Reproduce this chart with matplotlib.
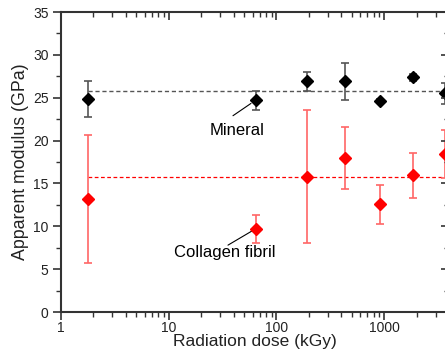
import matplotlib
matplotlib.use("Agg")
import matplotlib.pyplot as plt
from matplotlib.ticker import MultipleLocator, LogLocator, FixedLocator, NullFormatter, FuncFormatter

plt.rcParams['font.family'] = ['Liberation Sans', 'DejaVu Sans']

dose = [1.8, 64, 191, 436, 916, 1870, 3680]
mineral = [24.9, 24.7, 26.9, 26.9, 24.6, 27.4, 25.5]
mineral_err = [2.1, 1.1, 1.1, 2.2, 0.2, 0.4, 1.2]
collagen = [13.2, 9.7, 15.8, 18.0, 12.55, 15.95, 18.4]
collagen_err = [7.5, 1.65, 7.8, 3.6, 2.25, 2.65, 2.8]
mineral_mean = 25.8
collagen_mean = 15.8

fig = plt.figure(figsize=(4.45, 3.54), dpi=100)
pos = [61/445, 42/354, (449-61)/445, 300/354]
ax = fig.add_axes(pos)

ax.errorbar(dose, mineral, yerr=mineral_err, fmt='D', color='black', ms=6.5,
            ecolor='#555555', elinewidth=1.2, capsize=3, capthick=1.2, zorder=3)
ax.errorbar(dose, collagen, yerr=collagen_err, fmt='D', color='#ff0000', ms=6.5,
            ecolor='#ff6666', elinewidth=1.2, capsize=3, capthick=1.2, zorder=3)
ax.plot([dose[0], 5000], [mineral_mean]*2, ls=(0, (3, 2)), color='#555555', lw=1.0, zorder=2)
ax.plot([dose[0], 5000], [collagen_mean]*2, ls=(0, (3, 2)), color='#ff0000', lw=0.9, zorder=2)

# labels
ax.text(43.5, 21.2, 'Mineral', ha='center', va='center', fontsize=12)
ax.text(33, 6.9, 'Collagen fibril', ha='center', va='center', fontsize=12)
# leader lines
ax.annotate('', xy=(dose[1], mineral[1]), xytext=(39.5, 22.9),
            arrowprops=dict(arrowstyle='-', color='black', lw=0.8, shrinkA=0, shrinkB=4))
ax.annotate('', xy=(dose[1], collagen[1]), xytext=(35.5, 7.8),
            arrowprops=dict(arrowstyle='-', color='black', lw=0.8, shrinkA=0, shrinkB=0))

ax.set_xscale('log')
ax.set_xlim(1, 4000)
ax.set_ylim(0, 35)
ax.yaxis.set_major_locator(MultipleLocator(5))
ax.yaxis.set_minor_locator(MultipleLocator(2.5))
ax.xaxis.set_major_locator(FixedLocator([1, 10, 100, 1000]))
ax.xaxis.set_major_formatter(FuncFormatter(lambda v, p: f'{int(v)}'))
ax.xaxis.set_minor_locator(LogLocator(base=10, subs=range(2, 10), numticks=20))
ax.xaxis.set_minor_formatter(NullFormatter())

for s in ax.spines.values():
    s.set_color('#333333')
    s.set_linewidth(1.5)
ax.tick_params(which='both', direction='out', colors='#333333',
               labelcolor='#222222', labelsize=10)
ax.tick_params(which='major', length=5.5, width=1.2)
ax.tick_params(which='minor', length=3.5, width=1.0)
ax.tick_params(axis='x', which='major', pad=1)

# top/right inward ticks
ax2 = fig.add_axes(pos, sharex=ax, sharey=ax, frameon=False)
ax2.patch.set_visible(False)
ax2.xaxis.tick_top()
ax2.yaxis.tick_right()
ax2.tick_params(which='both', direction='in', colors='#333333',
                labeltop=False, labelright=False, labelbottom=False, labelleft=False)
ax2.tick_params(which='major', length=6, width=1.2)
ax2.tick_params(which='minor', length=3.5, width=1.0)

ax.set_xlabel('Radiation dose (kGy)', fontsize=12.5, labelpad=-1, color='#222222')
ax.set_ylabel('Apparent modulus (GPa)', fontsize=12.8, labelpad=3, color='#222222')

fig.savefig('out.png', dpi=100)
